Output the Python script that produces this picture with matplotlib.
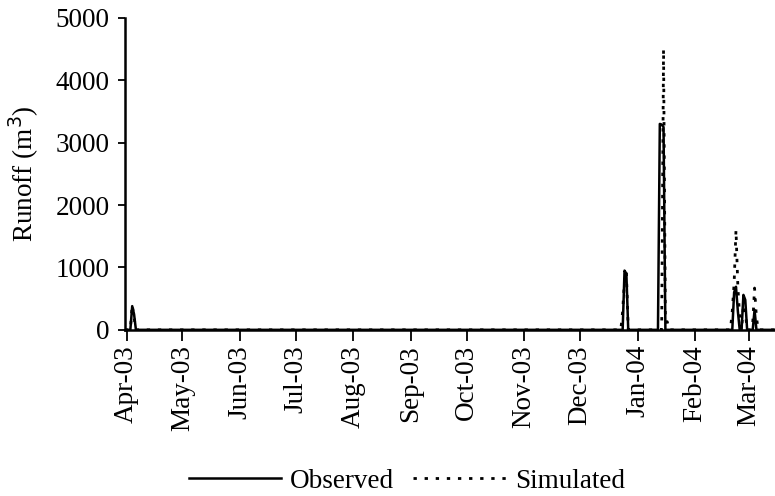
""" Observed vs simulated daily runoff, Apr-03 .. Mar-04.
"""

import numpy as np
import pandas as pd
import matplotlib
matplotlib.use('Agg')
import matplotlib.pyplot as plt
import matplotlib.dates as mdates


START = '2003-03-31'
END = '2004-03-15'

# runoff events (m^3); all other days are zero
event_dates = [
    '2003-04-03', '2003-04-04', '2003-04-05', '2003-04-06',
    '2003-12-23', '2003-12-24', '2003-12-25', '2003-12-26', '2003-12-27',
    '2004-01-12', '2004-01-13', '2004-01-14', '2004-01-15', '2004-01-16',
    '2004-01-17', '2004-01-18',
    '2004-02-20', '2004-02-21', '2004-02-22', '2004-02-23', '2004-02-24',
    '2004-02-25', '2004-02-26', '2004-02-27', '2004-02-28', '2004-02-29',
    '2004-03-01', '2004-03-02', '2004-03-03', '2004-03-04', '2004-03-05',
]
observed = [
    0, 380, 250, 0,
    0, 0, 950, 900, 0,
    0, 3300, 3290, 3250, 0,
    0, 0,
    0, 0, 600, 690, 300,
    0, 0, 560, 480, 0,
    0, 0, 0, 320, 0,
]
simulated = [
    0, 400, 200, 0,
    0, 300, 800, 930, 0,
    0, 0, 0, 4500, 130,
    130, 0,
    0, 300, 750, 1600, 700,
    200, 0, 400, 300, 0,
    0, 0, 100, 670, 200,
]

y_ticks = [0, 1000, 2000, 3000, 4000, 5000]
SERIF = ['Liberation Serif', 'DejaVu Serif']


def main():
    days = pd.date_range(START, END, freq='D')
    obs = pd.Series(0.0, index=days)
    sim = pd.Series(0.0, index=days)
    idx = pd.to_datetime(event_dates)
    obs[idx] = observed
    sim[idx] = simulated

    plt.rcParams['font.family'] = SERIF
    fig = plt.figure(figsize=(7.75, 4.96), dpi=100)
    ax = fig.add_axes([0.161, 0.335, 0.839, 0.629])

    ax.plot(obs.index, obs.values, color='black', lw=1.8,
            label='Observed')
    ax.plot(sim.index, sim.values, color='black', lw=2.0,
            linestyle=(0, (1.2, 2.8)), label='Simulated')

    ax.set_xlim(pd.Timestamp(START), pd.Timestamp(END))
    ax.set_ylim(0, 5000)
    ax.set_yticks(y_ticks)

    ax.xaxis.set_major_locator(mdates.MonthLocator(bymonthday=1))
    ax.xaxis.set_major_formatter(mdates.DateFormatter('%b-%y'))
    plt.setp(ax.get_xticklabels(), rotation=90)

    ax.tick_params(axis='both', labelsize=19.5, colors='black', width=1.3)
    ax.tick_params(axis='x', length=8, pad=3)
    ax.tick_params(axis='y', length=5, pad=6)

    for side in ['top', 'right']:
        ax.spines[side].set_visible(False)
    for side in ['left', 'bottom']:
        ax.spines[side].set_linewidth(1.8)

    ax.set_ylabel('Runoff (m$^3$)', fontsize=19.5, labelpad=10)

    fig.legend(loc='center', bbox_to_anchor=(0.525, 0.03), ncol=2,
               frameon=False, fontsize=19.5, handlelength=3.4,
               handletextpad=0.35, columnspacing=0.7)

    fig.savefig('out.png', dpi=100)


if __name__ == '__main__':
    main()
